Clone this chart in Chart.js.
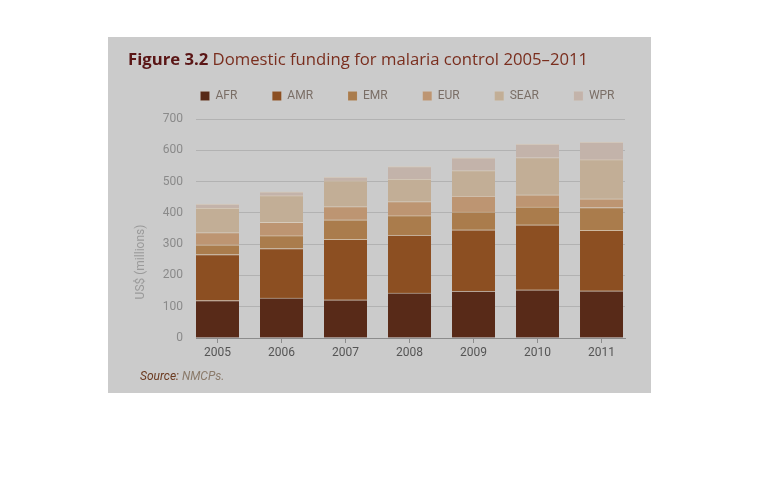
<!DOCTYPE html>
<html>
<head>
<meta charset="utf-8">
<script src="https://cdn.jsdelivr.net/npm/chart.js@4/dist/chart.umd.min.js"></script>
<style>
  body { margin: 0; background: #fff; width: 758px; height: 488px; position: relative; overflow: hidden; }
  #panel { position: absolute; left: 108px; top: 37px; width: 543px; height: 356px; background: #cbcbcb; }
  #chart { position: absolute; left: 0; top: 0; }
  #title { position: absolute; left: 20px; top: 10px; font-family: "Open Sans", sans-serif; font-size: 16.7px; color: #7a2e1e; white-space: nowrap; }
  #title b { color: #5a1515; font-weight: 700; }
  #source { position: absolute; left: 32px; top: 332px; font-family: Roboto, sans-serif; font-size: 12px; font-style: italic; color: #8a7a6a; }
  #source span { color: #6b3a20; }
</style>
</head>
<body>
<div id="panel">
  <canvas id="chart" width="543" height="356"></canvas>
  <div id="title"><b>Figure 3.2</b> Domestic funding for malaria control 2005–2011</div>
  <div id="source"><span>Source:</span> NMCPs.</div>
</div>
<script>
const years = ["2005", "2006", "2007", "2008", "2009", "2010", "2011"];
const regions = ["AFR", "AMR", "EMR", "EUR", "SEAR", "WPR"];
const regionColors = ["#582a18", "#8c4f22", "#aa7c4c", "#bd9572", "#c2ae96", "#c3b3aa"];

// US$ millions
const afr = [120, 128, 122, 144, 150, 154, 151];
const amr = [147, 158, 193, 185, 196, 208, 193];
const emr = [31, 41, 63, 62, 57, 57, 73];
const eur = [39, 43, 42, 45, 51, 39, 28];
const sear = [78, 85, 82, 72, 81, 119, 125];
const wpr = [13, 12, 12, 40, 41, 43, 56];

const yTicks = [0, 100, 200, 300, 400, 500, 600, 700];

const seriesValues = [afr, amr, emr, eur, sear, wpr];
const font = "Roboto, sans-serif";

const datasets = regions.map((name, i) => ({
  label: name,
  data: seriesValues[i].map((v, j) => ({ x: j, y: v })),
  backgroundColor: regionColors[i],
  borderColor: "rgba(235, 205, 170, 0.35)",
  borderWidth: { top: 1, left: 0, right: 0, bottom: 0 },
  borderSkipped: false,
  barThickness: 43,
}));

// more room under the legend, and move it a bit to the right
const legendTweak = {
  id: "legendTweak",
  beforeInit(chart) {
    const fit = chart.legend.fit;
    chart.legend.fit = function () {
      fit.bind(chart.legend)();
      this.height += 7;
    };
  },
  afterLayout(chart) {
    chart.legend.left += 27;
    chart.legend.right += 27;
  },
};

const yTitle = {
  id: "yTitle",
  afterDraw(chart) {
    const { ctx, chartArea } = chart;
    ctx.save();
    ctx.translate(chartArea.left - 55, chartArea.bottom - 76);
    ctx.rotate(-Math.PI / 2);
    ctx.font = "12px " + font;
    ctx.fillStyle = "#9a9a9a";
    ctx.textAlign = "center";
    ctx.textBaseline = "middle";
    ctx.fillText("US$ (millions)", 0, 0);
    ctx.restore();
  },
};

new Chart(document.querySelector("#chart"), {
  type: "bar",
  data: { datasets },
  options: {
    responsive: false,
    animation: false,
    layout: { padding: { left: 28, right: 26, top: 18, bottom: 35 } },
    plugins: {
      tooltip: { enabled: false },
      legend: {
        position: "top",
        labels: {
          boxWidth: 9,
          boxHeight: 9,
          padding: 35,
          color: "#7a6e66",
          font: { family: font, size: 12 },
        },
      },
    },
    scales: {
      x: {
        type: "linear",
        stacked: true,
        offset: false,
        min: -0.336,
        max: 6.367,
        afterBuildTicks: (axis) => {
          axis.ticks = years.map((_, i) => ({ value: i }));
        },
        afterFit: (axis) => {
          axis.height = 20;
        },
        grid: { offset: false, drawOnChartArea: false, drawTicks: true, tickLength: 5, color: "#8c8c8c" },
        border: { color: "#8c8c8c" },
        ticks: {
          padding: 3,
          color: "#555",
          font: { family: font, size: 12 },
          callback: (v) => years[v],
        },
      },
      y: {
        stacked: true,
        min: 0,
        max: 700,
        afterBuildTicks: (axis) => {
          axis.ticks = yTicks.map((v) => ({ value: v }));
        },
        afterFit: (axis) => {
          axis.width = 60;
        },
        grid: { color: "#b2b2b2", drawTicks: false },
        border: { display: false },
        ticks: {
          padding: 13,
          color: "#8a8a8a",
          font: { family: font, size: 12 },
        },
      },
    },
  },
  plugins: [legendTweak, yTitle],
});
</script>
</body>
</html>
